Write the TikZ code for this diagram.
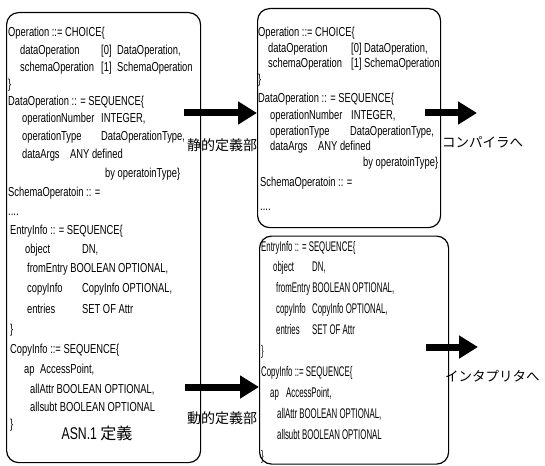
\documentclass[tikz,border=0pt]{standalone}
\usepackage{fontspec}
\setmainfont{Liberation Sans}
\newfontfamily\codeA[FakeStretch=0.72]{Liberation Sans}
\newfontfamily\codeB[FakeStretch=0.56]{Liberation Sans}
\newfontfamily\jp{Noto Sans CJK JP}
\usetikzlibrary{arrows.meta}
\begin{document}
\begin{tikzpicture}[x=1pt,y=-1pt,
  box/.style={draw, line width=1.2pt, rounded corners=12pt, inner sep=0pt, anchor=north west},
  codea/.style={anchor=west, inner sep=0pt, text height=9pt, text depth=2pt, font=\codeA\fontsize{13}{15}\selectfont},
  codeb/.style={anchor=west, inner sep=0pt, text height=9.5pt, text depth=2pt, font=\codeB\fontsize{14}{16}\selectfont},
  jplabel/.style={font=\jp\fontsize{14}{16}\selectfont, inner sep=0pt},
  katalabel/.style={font=\jp\fontsize{13.5}{16}\selectfont, inner sep=0pt, anchor=west},
  bigarrow/.style={line width=7pt, -{Triangle[width=22pt,length=19pt]}}]
\useasboundingbox (0,0) rectangle (545,465);
% boxes
\node[box, minimum width=194pt, minimum height=450pt] (LB) at (6,12) {};
\node[box, minimum width=183pt, minimum height=219pt] (RT) at (257,8) {};
\node[box, minimum width=189pt, minimum height=228pt] (RB) at (259,235.5) {};
% left box text
\foreach \x/\y/\tx [count=\i] in {
8/33/{Operation ::= CHOICE\{},
20/51/dataOperation, 101/51/{[0]}, 117/51/{DataOperation,},
20/68/schemaOperation, 101/68/{[1]}, 117/68/SchemaOperation,
8/85/\},
8/102/{DataOperation :: = SEQUENCE\{},
22/119/operationNumber, 101/119/{INTEGER,},
22/137/operationType, 101/137/{DataOperationType,},
22/155/dataArgs, 70/155/{ANY defined},
105/174/{by operatoinType\}},
8/193/{SchemaOperatoin :: =},
10/231/{EntryInfo :: = SEQUENCE\{},
25/250/object, 82/250/{DN,},
27/269/{fromEntry BOOLEAN OPTIONAL,},
27/289/copyInfo, 82/289/{CopyInfo OPTIONAL,},
27/310/entries, 82/310/{SET OF Attr},
10/330/\},
10/350/{CopyInfo ::= SEQUENCE\{},
24/370/ap, 40/370/{AccessPoint,},
30/390/{allAttr BOOLEAN OPTIONAL,},
30/408/{allsubt BOOLEAN OPTIONAL},
10/425/\}
}{\node[codea] (L\i) at (\x,\y) {\tx};}
\node[codea] (Ldots) at (8,212) {....};
\node[inner sep=0pt] (asn) at (97,433) {\codeA\fontsize{17}{19}\selectfont ASN.1 \jp\fontsize{16}{19}\selectfont 定義};
% right top text
\foreach \x/\y/\tx [count=\i] in {
258/33/{Operation ::= CHOICE\{},
268/49/dataOperation, 351/49/{[0]}, 364/49/{DataOperation,},
268/64/schemaOperation, 351/64/{[1]}, 364/64/SchemaOperation,
258/80/\},
258/99/{DataOperation :: = SEQUENCE\{},
270/116/operationNumber, 351/116/{INTEGER,},
270/132/operationType, 350/132/{DataOperationType,},
270/147/dataArgs, 318/147/{ANY defined},
363/163/{by operatoinType\}},
260/183/{SchemaOperatoin :: =}
}{\node[codea] (T\i) at (\x,\y) {\tx};}
\node[codea] (Tdots) at (260,207) {....};
% right bottom text
\foreach \x/\y/\tx [count=\i] in {
261/248/{EntryInfo :: = SEQUENCE\{},
273/268/object, 312/268/{DN,},
276/289/{fromEntry BOOLEAN OPTIONAL,},
276/310/copyInfo, 312/310/{CopyInfo OPTIONAL,},
276/331/entries, 312/331/{SET OF Attr},
261/352/\},
261/373/{CopyInfo ::= SEQUENCE\{},
270/394/ap, 286/394/{AccessPoint,},
277/415/{allAttr BOOLEAN OPTIONAL,},
277/436/{allsubt BOOLEAN OPTIONAL},
261/457/\}
}{\node[codeb] (B\i) at (\x,\y) {\tx};}
% arrows
\coordinate (a1) at (184,113);
\coordinate (a2) at (185,387);
\coordinate (a3s) at (425,113);
\coordinate (a3e) at (477,113);
\coordinate (a4s) at (426,347);
\coordinate (a4e) at (478,347);
\draw[bigarrow] (a1) -- (a1 -| RT.west);
\draw[bigarrow] (a2) -- (a2 -| RB.west);
\draw[bigarrow] (a3s) -- (a3e);
\draw[bigarrow] (a4s) -- (a4e);
% labels
\node[jplabel] (stat) at (222,145) {静的定義部};
\node[jplabel] (dyn) at (222,418) {動的定義部};
\node[katalabel] (comp) at (442,142) {コンパイラへ};
\node[katalabel] (interp) at (445,376) {インタプリタへ};
\end{tikzpicture}
\end{document}
